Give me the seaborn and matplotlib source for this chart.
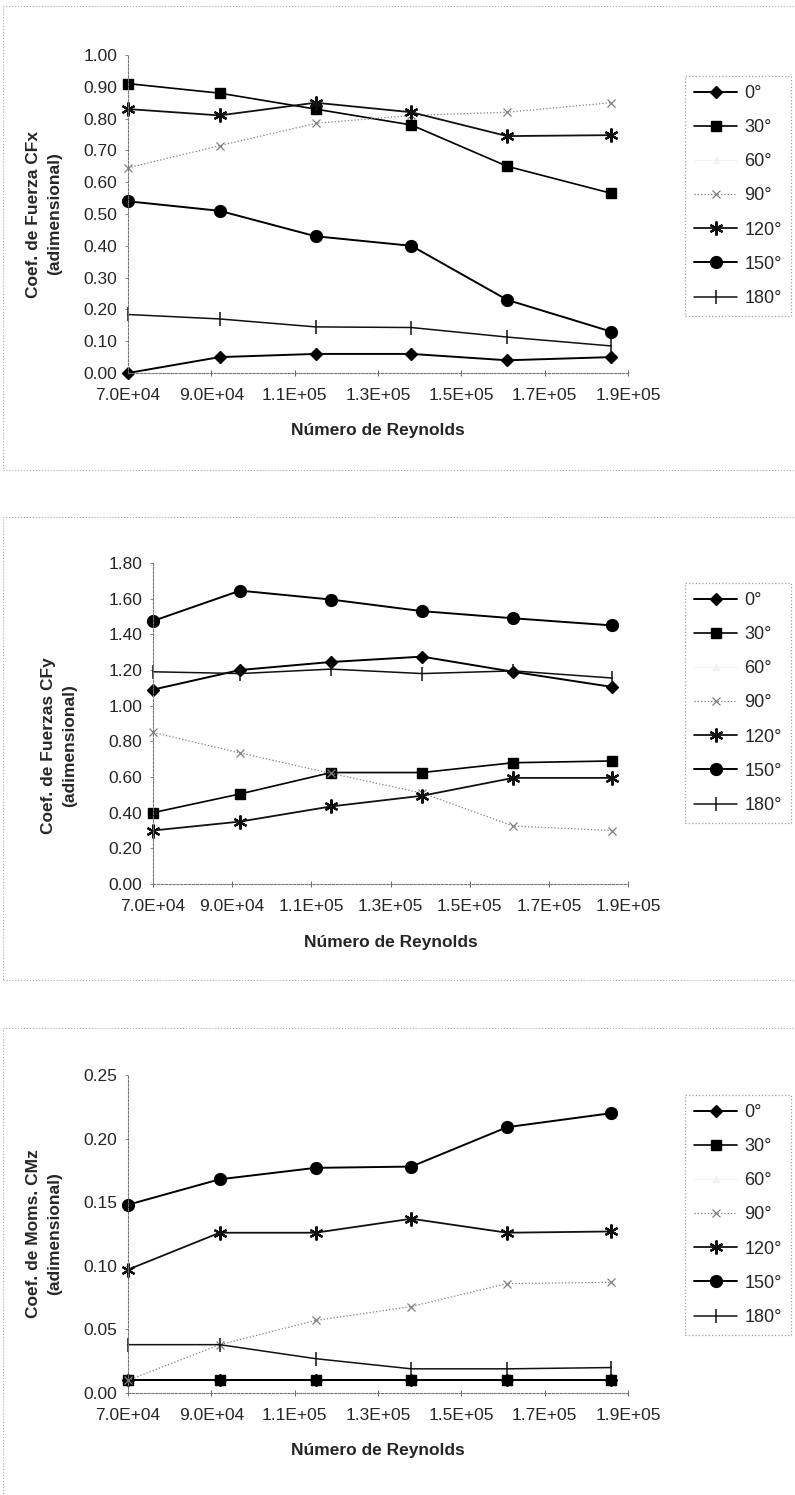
import numpy as np
import matplotlib
matplotlib.use("Agg")
import matplotlib.pyplot as plt
import matplotlib.patches as mpatches
from matplotlib.ticker import FuncFormatter, MultipleLocator
import seaborn as sns

# ---------- DATA ----------
reynolds = [7.0e4, 9.2e4, 1.15e5, 1.38e5, 1.61e5, 1.86e5]
re_ticks = [7.0e4, 9.0e4, 1.1e5, 1.3e5, 1.5e5, 1.7e5, 1.9e5]
angles = ["0°", "30°", "60°", "90°", "120°", "150°", "180°"]
nan6 = [np.nan] * 6

# Coef. de Fuerza CFx
cfx_0 = [0.00, 0.05, 0.06, 0.06, 0.04, 0.05]
cfx_30 = [0.91, 0.88, 0.83, 0.78, 0.65, 0.565]
cfx_60 = nan6
cfx_90 = [0.645, 0.715, 0.785, 0.81, 0.82, 0.85]
cfx_120 = [0.83, 0.81, 0.85, 0.82, 0.745, 0.748]
cfx_150 = [0.54, 0.51, 0.43, 0.40, 0.23, 0.13]
cfx_180 = [0.184, 0.17, 0.145, 0.143, 0.113, 0.085]

# Coef. de Fuerzas CFy
cfy_0 = [1.09, 1.20, 1.245, 1.275, 1.19, 1.105]
cfy_30 = [0.40, 0.505, 0.625, 0.625, 0.68, 0.69]
cfy_60 = nan6
cfy_90 = [0.85, 0.735, 0.62, 0.51, 0.325, 0.30]
cfy_120 = [0.30, 0.35, 0.435, 0.495, 0.595, 0.595]
cfy_150 = [1.475, 1.645, 1.595, 1.53, 1.49, 1.45]
cfy_180 = [1.19, 1.18, 1.205, 1.18, 1.195, 1.155]

# Coef. de Momentos CMz
cmz_0 = [0.010, 0.010, 0.010, 0.010, 0.010, 0.010]
cmz_30 = [0.010, 0.010, 0.010, 0.010, 0.010, 0.010]
cmz_60 = nan6
cmz_90 = [0.010, 0.038, 0.057, 0.068, 0.086, 0.087]
cmz_120 = [0.097, 0.126, 0.126, 0.137, 0.126, 0.127]
cmz_150 = [0.148, 0.168, 0.177, 0.178, 0.209, 0.220]
cmz_180 = [0.038, 0.038, 0.027, 0.019, 0.019, 0.020]

# ---------- STYLE ----------
sns.set_style("white")
plt.rcParams["font.family"] = ["Liberation Sans", "DejaVu Sans"]

W, H = 795, 1495
fig = plt.figure(figsize=(W / 100, H / 100), dpi=100)

styles = {
    "0°": dict(marker="D", markersize=6.5, color="black", lw=1.4, linestyle="-"),
    "30°": dict(marker="s", markersize=7.5, color="black", lw=1.2, linestyle="-"),
    "60°": dict(marker="^", markersize=5, color="#f2f2f2", lw=0.8, linestyle="-"),
    "90°": dict(marker="x", markersize=6, markeredgewidth=0.9, color="#808080", lw=0.9, linestyle=":"),
    "120°": dict(marker=(6, 2, 0), markersize=10, markeredgewidth=1.6, color="#111111", lw=1.3, linestyle="-"),
    "150°": dict(marker="o", markersize=8.5, color="black", lw=1.4, linestyle="-"),
    "180°": dict(marker="|", markersize=10, markeredgewidth=1.1, color="#111111", lw=1.1, linestyle="-"),
}
for st in styles.values():
    st["markeredgecolor"] = st["color"]
    st["markerfacecolor"] = st["color"]
    st.setdefault("markeredgewidth", 1.0)

panels = [
    dict(series=[cfx_0, cfx_30, cfx_60, cfx_90, cfx_120, cfx_150, cfx_180],
         box=(128, 628, 55, 373), ylim=(0, 1.0), ystep=0.1,
         ylabel="Coef. de Fuerza CFx\n(adimensional)", ylab_xy=(-84, 0.5),
         leg_top=76, frame=(6, 470)),
    dict(series=[cfy_0, cfy_30, cfy_60, cfy_90, cfy_120, cfy_150, cfy_180],
         box=(153, 628, 563, 884), ylim=(0, 1.8), ystep=0.2,
         ylabel="Coef. de Fuerzas CFy\n(adimensional)", ylab_xy=(-94, 0.43),
         leg_top=583, frame=(517, 980)),
    dict(series=[cmz_0, cmz_30, cmz_60, cmz_90, cmz_120, cmz_150, cmz_180],
         box=(128, 628, 1075, 1393), ylim=(0, 0.25), ystep=0.05,
         ylabel="Coef. de Moms. CMz\n(adimensional)", ylab_xy=(-84, 0.5),
         leg_top=1095, frame=(1028, 1520)),
]

xfmt = FuncFormatter(lambda v, p: f"{v:.1E}")

for pn in panels:
    left, right, top, bottom = pn["box"]
    ax = fig.add_axes([left / W, 1 - bottom / H, (right - left) / W, (bottom - top) / H])

    for ang, vals in zip(angles, pn["series"]):
        st = styles[ang]
        if np.all(np.isnan(vals)):
            ax.plot(reynolds, vals, label=ang, **st)
        else:
            sns.lineplot(x=reynolds, y=vals, ax=ax, label=ang, clip_on=False, **st)

    ax.set_xlim(7.0e4, 1.9e5)
    ax.set_ylim(*pn["ylim"])
    ax.set_xticks(re_ticks)
    ax.xaxis.set_major_formatter(xfmt)
    ax.yaxis.set_major_locator(MultipleLocator(pn["ystep"]))
    ax.yaxis.set_major_formatter(FuncFormatter(lambda v, p: f"{v:.2f}"))

    for s in ["top", "right"]:
        ax.spines[s].set_visible(False)
    for s in ["left", "bottom"]:
        ax.spines[s].set_color("#777777")
        ax.spines[s].set_linewidth(0.8)
        ax.spines[s].set_linestyle((0, (2, 1.5)))
    ax.tick_params(axis="x", direction="inout", length=5, width=0.7, color="#666666",
                   labelsize=12.5, pad=8, bottom=True)
    ax.tick_params(axis="y", direction="out", length=2.5, width=0.7, color="#888888",
                   labelsize=12.5, pad=5, left=True)

    ax.set_xlabel("Número de Reynolds", fontsize=12.5, fontweight="bold")
    ax.xaxis.set_label_coords(0.5, -58 / (bottom - top))
    ax.xaxis.label.set_va("center")
    ax.set_ylabel(pn["ylabel"], fontsize=12.5, fontweight="bold", linespacing=1.5)
    ax.yaxis.set_label_coords(pn["ylab_xy"][0] / (right - left), pn["ylab_xy"][1])
    ax.yaxis.label.set_va("center")

    handles, labels = ax.get_legend_handles_labels()
    leg = ax.legend(handles, labels, loc="upper left",
                    bbox_to_anchor=(685 / W, 1 - pn["leg_top"] / H),
                    bbox_transform=fig.transFigure, borderaxespad=0,
                    frameon=True, fancybox=False, fontsize=13,
                    handlelength=2.4, handletextpad=0.4, labelspacing=0.95,
                    borderpad=0.5)
    leg.get_frame().set_edgecolor("#888888")
    leg.get_frame().set_linestyle(":")
    leg.get_frame().set_linewidth(0.9)

    # chart area border (dotted, as in the scanned Excel charts)
    ftop, fbot = pn["frame"]
    fig.add_artist(mpatches.Rectangle((3 / W, 1 - fbot / H), 1.5, (fbot - ftop) / H,
                                      transform=fig.transFigure, fill=False,
                                      edgecolor="#aaaaaa", linestyle=":", linewidth=0.8))

fig.savefig("out.png", dpi=100, facecolor="white")
